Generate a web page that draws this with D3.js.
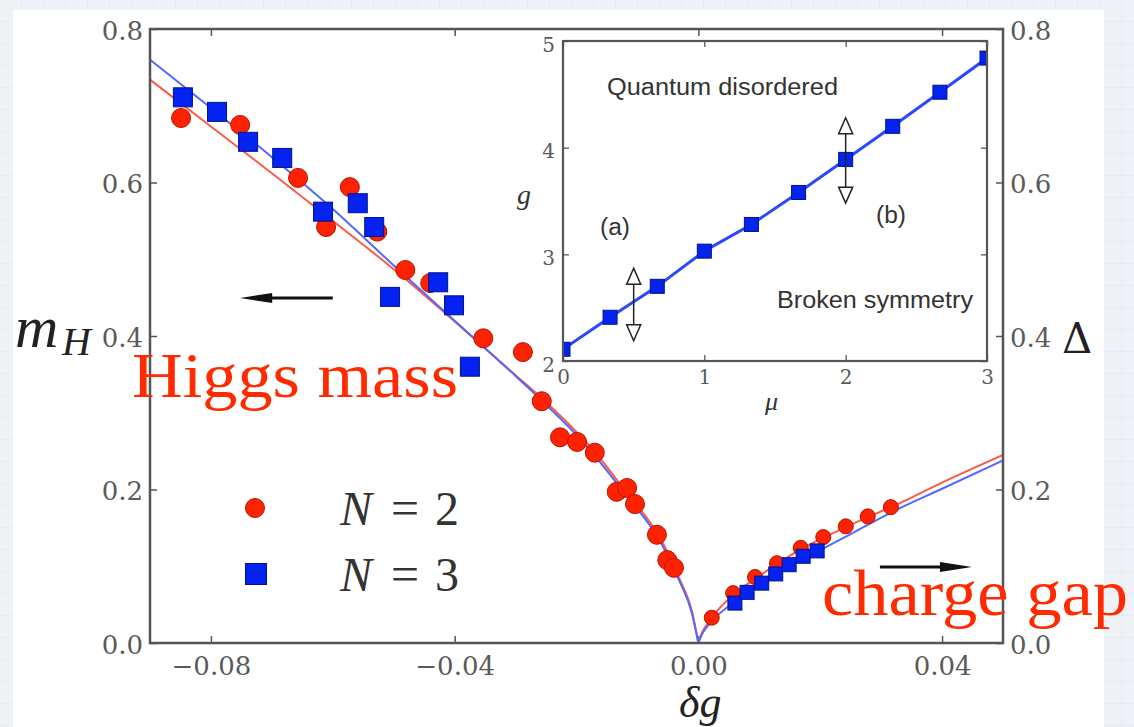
<!DOCTYPE html>
<html><head><meta charset="utf-8">
<script src="https://cdn.jsdelivr.net/npm/d3@7"></script>
<style>html,body{margin:0;padding:0;background:#fff}</style>
</head><body><svg id="c" width="1134" height="727"></svg>
<script>
// ---------------- data ----------------
// main plot: N = 2 (red circles)
const n2DeltaG = [-0.0849,-0.0752,-0.0657,-0.0611,-0.0572,-0.0527,-0.0481,-0.0440,-0.0353,-0.0288,-0.0257,-0.0227,-0.0199,-0.0170,-0.0134,-0.0117,-0.0104,-0.0068,-0.0051,-0.0040,0.0022,0.0057,0.0093,0.0129,0.0168,0.0205,0.0242,0.0278,0.0316];
const n2Value  = [0.684,0.675,0.606,0.542,0.594,0.536,0.486,0.469,0.397,0.379,0.315,0.268,0.262,0.248,0.197,0.202,0.181,0.141,0.108,0.098,0.033,0.065,0.086,0.104,0.124,0.138,0.152,0.165,0.177];
// main plot: N = 3 (blue squares)
const n3DeltaG = [-0.0846,-0.0790,-0.0739,-0.0683,-0.0616,-0.0559,-0.0532,-0.0506,-0.0427,-0.0401,-0.0375,0.0060,0.0080,0.0104,0.0127,0.0149,0.0172,0.0195];
const n3Value  = [0.711,0.692,0.653,0.632,0.562,0.573,0.542,0.451,0.470,0.440,0.360,0.052,0.066,0.078,0.090,0.102,0.113,0.120];
// fitted curves
const n2FitDeltaG = [-0.09,-0.08,-0.07,-0.0605,-0.05,-0.04,-0.035,-0.03,-0.0257,-0.02,-0.017,-0.0118,-0.0063,-0.003,-0.0011,0];
const n2FitValue  = [0.734,0.673,0.612,0.553,0.487,0.419,0.384,0.349,0.319,0.275,0.249,0.196,0.137,0.082,0.043,0];
const n3FitDeltaG = [-0.09,-0.08,-0.07,-0.0605,-0.05,-0.04,-0.035,-0.03,-0.0257,-0.02,-0.017,-0.0118,-0.0063,-0.003,-0.0011,0];
const n3FitValue  = [0.760,0.697,0.633,0.569,0.492,0.420,0.384,0.348,0.316,0.271,0.244,0.192,0.133,0.079,0.040,0];
const n2GapDeltaG = [0,0.0005,0.0015,0.0022,0.0057,0.0096,0.0131,0.017,0.0205,0.0242,0.0278,0.0316,0.040,0.050];
const n2GapValue  = [0,0.012,0.025,0.033,0.063,0.085,0.104,0.123,0.137,0.151,0.164,0.177,0.209,0.245];
const n3GapDeltaG = [0,0.0005,0.0015,0.003,0.006,0.010,0.015,0.020,0.025,0.0316,0.040,0.050];
const n3GapValue  = [0,0.010,0.022,0.035,0.054,0.076,0.100,0.121,0.142,0.170,0.201,0.238];
// axis ticks
const xTicks = [-0.08,-0.04,0,0.04];
const xTickLabels = ["\u22120.08","\u22120.04","0.00","0.04"];
const yTicks = [0,0.2,0.4,0.6,0.8];
const yTickLabels = ["0.0","0.2","0.4","0.6","0.8"];
// inset: phase boundary g(mu)
const insetMu = [0,0.333,0.667,1,1.333,1.667,2,2.333,2.667,3];
const insetG  = [2.11,2.41,2.70,3.03,3.28,3.58,3.89,4.20,4.52,4.84];
const insetXTicks = [0,1,2,3];
const insetYTicks = [2,3,4,5];
const insetArrowMu = [0.5,2];
const insetArrowLow = [2.19,3.48];
const insetArrowHigh = [2.87,4.28];
const legendLabels = ["2","3"];

// ---------------- drawing ----------------
const W=1134,H=727;
const svg=d3.select('#c');
const defs=svg.append('defs');
const pat=defs.append('pattern').attr('id','grid').attr('width',22).attr('height',22).attr('patternUnits','userSpaceOnUse');
pat.append('rect').attr('width',22).attr('height',22).attr('fill','#eef2f6');
pat.append('path').attr('d','M22 0V22M0 22H22').attr('stroke','#dbe4ee').attr('stroke-width',1).attr('fill','none');
svg.append('rect').attr('width',W).attr('height',H).attr('fill','url(#grid)');
svg.append('rect').attr('x',13).attr('y',10).attr('width',1091).attr('height',717).attr('fill','#fff');

const L=150,R=1003,T=29,B=643;
const x=d3.scaleLinear().domain([-0.09,0.05]).range([L,R]);
const y=d3.scaleLinear().domain([0,0.8]).range([B,T]);

defs.append('clipPath').attr('id','mainclip').append('rect').attr('x',L).attr('y',T).attr('width',R-L).attr('height',B-T);

const axisColor='#555';
const tickFont='DejaVu Serif';
function styleAxis(g){
  g.select('.domain').remove();
  g.selectAll('.tick line').attr('stroke',axisColor).attr('stroke-width',1.5);
  g.selectAll('.tick text').attr('fill','#5a5a5a').attr('font-family',tickFont).attr('font-size',26);
}
svg.append('g').attr('transform',`translate(0,${B})`)
  .call(d3.axisBottom(x).tickValues(xTicks).tickSize(-7).tickPadding(14).tickFormat((d,i)=>xTickLabels[i])).call(styleAxis);
svg.append('g').attr('transform',`translate(0,${T})`)
  .call(d3.axisTop(x).tickValues(xTicks).tickSize(-7).tickFormat('')).call(styleAxis);
svg.append('g').attr('transform',`translate(${L},0)`)
  .call(d3.axisLeft(y).tickValues(yTicks).tickSize(-7).tickPadding(7).tickFormat((d,i)=>yTickLabels[i])).call(styleAxis)
  .selectAll('.tick text').attr('dy','0.40em');
svg.append('g').attr('transform',`translate(${R},0)`)
  .call(d3.axisRight(y).tickValues(yTicks).tickSize(-7).tickPadding(7).tickFormat((d,i)=>yTickLabels[i])).call(styleAxis)
  .selectAll('.tick text').attr('dy','0.40em');

// curves
const plot=svg.append('g').attr('clip-path','url(#mainclip)');
const line=d3.line().x(d=>x(d[0])).y(d=>y(d[1])).curve(d3.curveMonotoneX);
const curves=[
  {xs:n2FitDeltaG,ys:n2FitValue,c:'#ff5a48'},
  {xs:n2GapDeltaG,ys:n2GapValue,c:'#ff5a48'},
  {xs:n3FitDeltaG,ys:n3FitValue,c:'#5268ff'},
  {xs:n3GapDeltaG,ys:n3GapValue,c:'#5268ff'}
];
curves.forEach(cv=>{
  plot.append('path').datum(d3.zip(cv.xs,cv.ys)).attr('d',line)
    .attr('fill','none').attr('stroke',cv.c).attr('stroke-width',2);
});
// red circles
plot.selectAll('circle.n2').data(d3.zip(n2DeltaG,n2Value)).join('circle')
  .attr('cx',d=>x(d[0])).attr('cy',d=>y(d[1])).attr('r',d=>d[0]>0?7.5:9.5)
  .attr('fill','#ff2200').attr('stroke','#b81400').attr('stroke-width',1);
// blue squares
plot.selectAll('rect.n3').data(d3.zip(n3DeltaG,n3Value)).join('rect')
  .each(function(d){
    const s=d[0]>0?14:19;
    d3.select(this).attr('x',x(d[0])-s/2).attr('y',y(d[1])-s/2).attr('width',s).attr('height',s);
  })
  .attr('fill','#0422f0').attr('stroke','#00138a').attr('stroke-width',1);

// main frame
svg.append('rect').attr('x',L).attr('y',T).attr('width',R-L).attr('height',B-T)
  .attr('fill','none').attr('stroke',axisColor).attr('stroke-width',2.5);

// direction arrows
function hArrow(x0,x1,yy){
  const dir=Math.sign(x1-x0);
  const X1=x(x1),X0=x(x0),Y=y(yy);
  svg.append('line').attr('x1',X0).attr('x2',X1-dir*20).attr('y1',Y).attr('y2',Y).attr('stroke','#111').attr('stroke-width',3);
  svg.append('path').attr('d',`M${X1},${Y}L${X1-dir*32},${Y-5}L${X1-dir*32},${Y+5}Z`).attr('fill','#111');
}
hArrow(-0.0600,-0.0752,0.4495);
hArrow(0.0298,0.0449,0.0990);

// axis titles
const serif='Liberation Serif';
svg.append('text').attr('x',15).attr('y',347).attr('font-family',serif).attr('font-style','italic').attr('font-size',60).attr('fill','#222').text('m');
svg.append('text').attr('x',62).attr('y',355).attr('font-family',serif).attr('font-style','italic').attr('font-size',40).attr('fill','#222').text('H');
svg.append('text').attr('x',1062).attr('y',353).attr('font-family','DejaVu Serif').attr('font-size',42).attr('fill','#222').text('\u0394');
svg.append('text').attr('x',679).attr('y',717).attr('font-family',serif).attr('font-style','italic').attr('font-size',44).attr('fill','#222').text('\u03b4g');

// legend
const legY=[508,574];
svg.append('circle').attr('cx',255).attr('cy',legY[0]).attr('r',9.5).attr('fill','#ff2200').attr('stroke','#b81400');
svg.append('rect').attr('x',245.5).attr('y',legY[1]-10.5).attr('width',21).attr('height',21).attr('fill','#0422f0').attr('stroke','#00138a');
legendLabels.forEach((lab,i)=>{
  const t=svg.append('text').attr('y',legY[i]+17).attr('fill','#333');
  t.append('tspan').attr('x',340).attr('font-family',serif).attr('font-style','italic').attr('font-size',48).text('N');
  t.append('tspan').attr('x',391).attr('font-family',serif).attr('font-size',50).text('=');
  t.append('tspan').attr('x',435).attr('font-family',serif).attr('font-size',48).text(lab);
});

// ---------------- inset ----------------
const IL=563,IR=987,IT=41,IB=361;
const ix=d3.scaleLinear().domain([0,3]).range([IL,IR]);
const iy=d3.scaleLinear().domain([2,5]).range([IB,IT]);
defs.append('clipPath').attr('id','insetclip').append('rect').attr('x',IL).attr('y',IT).attr('width',IR-IL).attr('height',IB-IT);
svg.append('rect').attr('x',IL).attr('y',IT).attr('width',IR-IL).attr('height',IB-IT).attr('fill','#fff');
function styleInset(g){
  g.select('.domain').remove();
  g.selectAll('.tick line').attr('stroke',axisColor).attr('stroke-width',1.3);
  g.selectAll('.tick text').attr('fill','#5a5a5a').attr('font-family',tickFont).attr('font-size',20);
}
svg.append('g').attr('transform',`translate(0,${IB})`).call(d3.axisBottom(ix).tickValues(insetXTicks).tickSize(-6).tickPadding(9).tickFormat(d3.format('d'))).call(styleInset);
svg.append('g').attr('transform',`translate(0,${IT})`).call(d3.axisTop(ix).tickValues(insetXTicks).tickSize(-6).tickFormat('')).call(styleInset);
svg.append('g').attr('transform',`translate(${IL},0)`).call(d3.axisLeft(iy).tickValues(insetYTicks).tickSize(-6).tickPadding(8).tickFormat(d3.format('d'))).call(styleInset)
  .selectAll('.tick text').attr('dy','0.5em');
svg.append('g').attr('transform',`translate(${IR},0)`).call(d3.axisRight(iy).tickValues(insetYTicks).tickSize(-6).tickFormat('')).call(styleInset);

const ip=svg.append('g').attr('clip-path','url(#insetclip)');
ip.append('path').datum(d3.zip(insetMu,insetG))
  .attr('d',d3.line().x(d=>ix(d[0])).y(d=>iy(d[1])))
  .attr('fill','none').attr('stroke','#2a48ff').attr('stroke-width',3);
ip.selectAll('rect.pt').data(d3.zip(insetMu,insetG)).join('rect')
  .attr('x',d=>ix(d[0])-7).attr('y',d=>iy(d[1])-7).attr('width',14).attr('height',14)
  .attr('fill','#0422f0').attr('stroke','#00138a').attr('stroke-width',1);

// double arrows
insetArrowMu.forEach((m,i)=>{
  const X=ix(m),Y0=iy(insetArrowLow[i]),Y1=iy(insetArrowHigh[i]);
  const hl=16,hw=7;
  svg.append('line').attr('x1',X).attr('x2',X).attr('y1',Y1+hl).attr('y2',Y0-hl).attr('stroke','#222').attr('stroke-width',1.5);
  svg.append('path').attr('d',`M${X},${Y1}L${X-hw},${Y1+hl}L${X+hw},${Y1+hl}Z`).attr('fill','#fff').attr('stroke','#222').attr('stroke-width',1.5);
  svg.append('path').attr('d',`M${X},${Y0}L${X-hw},${Y0-hl}L${X+hw},${Y0-hl}Z`).attr('fill','#fff').attr('stroke','#222').attr('stroke-width',1.5);
});

svg.append('rect').attr('x',IL).attr('y',IT).attr('width',IR-IL).attr('height',IB-IT)
  .attr('fill','none').attr('stroke',axisColor).attr('stroke-width',2.2);

const sans='Liberation Sans';
function itext(tx,xx,yy,len){
  svg.append('text').attr('x',xx).attr('y',yy).attr('font-family',sans).attr('font-size',23).attr('fill','#333')
    .attr('textLength',len).attr('lengthAdjust','spacingAndGlyphs').text(tx);
}
itext('Quantum disordered',607,95,231);
itext('(a)',600,235,30);
itext('(b)',876,223,30);
itext('Broken symmetry',777,308,196);
svg.append('text').attr('x',517).attr('y',204).attr('font-family',serif).attr('font-style','italic').attr('font-size',28).attr('fill','#333').text('g');
svg.append('text').attr('x',765).attr('y',410).attr('font-family',serif).attr('font-style','italic').attr('font-size',26).attr('fill','#333').text('\u03bc');

// ---------------- red annotations ----------------
svg.append('text').attr('x',132).attr('y',397).attr('font-family',serif).attr('font-size',63).attr('fill','#ff2a00')
  .attr('textLength',326).attr('lengthAdjust','spacingAndGlyphs').text('Higgs mass');
svg.append('text').attr('x',822).attr('y',615).attr('font-family',serif).attr('font-size',66).attr('fill','#ff2a00')
  .attr('textLength',306).attr('lengthAdjust','spacingAndGlyphs').text('charge gap');
</script></body></html>
